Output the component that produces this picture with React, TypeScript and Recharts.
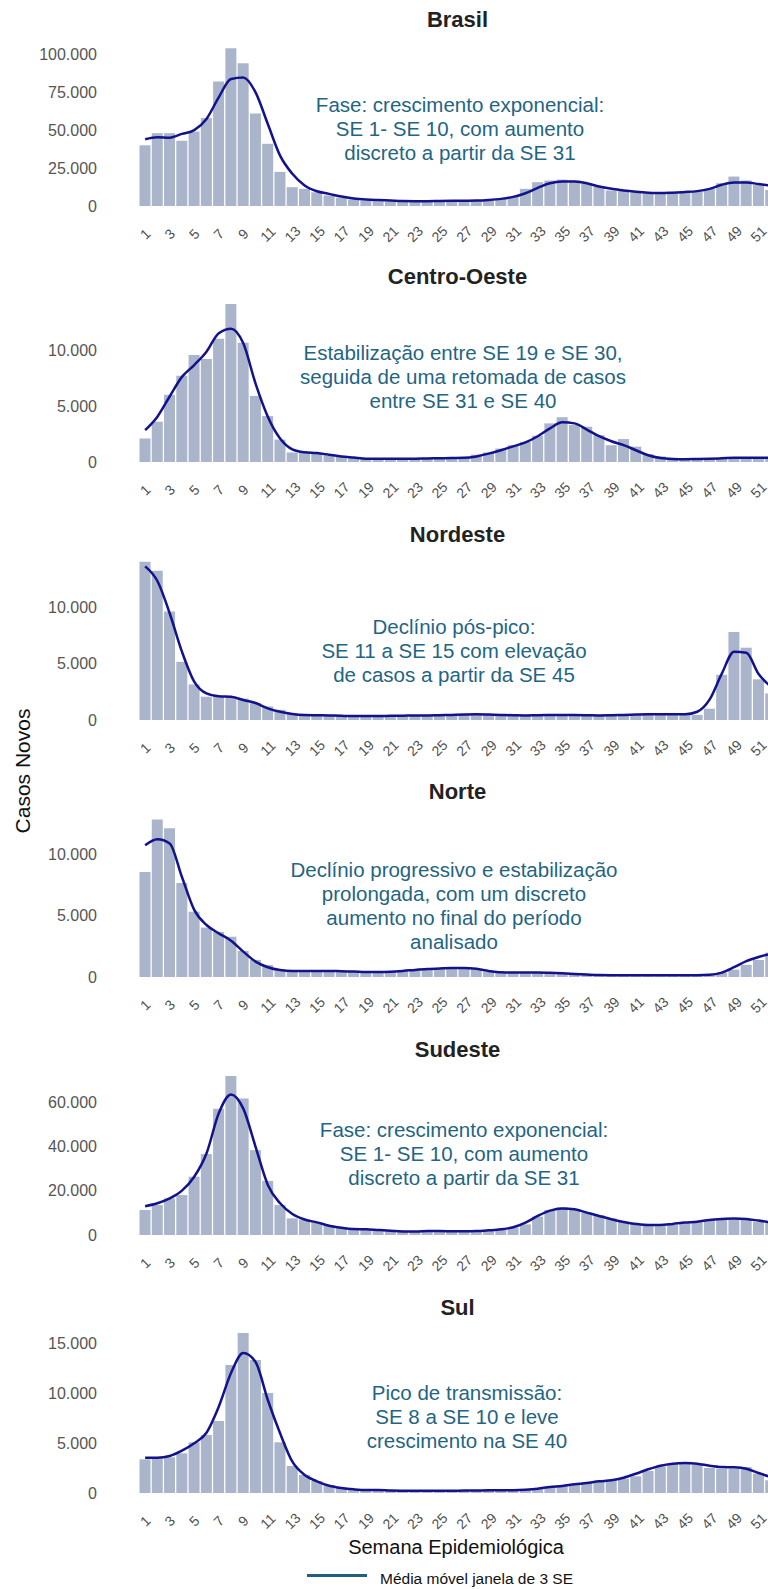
import { ComposedChart, Bar, Line, XAxis, YAxis } from "recharts";

const weeks = Array.from({ length: 52 }, (_, i) => String(i + 1));

// casos novos por SE (barras) e média móvel de 3 SE (linha)
const brasilCasos = [
  40000, 48000, 48000, 43000, 49000, 58000, 82000, 104000, 94000, 61000,
  41000, 22500, 12400, 11300, 9000, 7000, 5400, 4300, 3600, 3200,
  3000, 3000, 3000, 3200, 3300, 3400, 3500, 3600, 4000, 4700,
  5800, 11300, 15700, 16800, 17400, 16800, 15000, 12800, 10200, 10600,
  9000, 8400, 8000, 8400, 9000, 9600, 11300, 15000, 19400, 16800,
  14000, 10600,
];
const brasilMedia = [
  44000, 45300, 45000, 47500, 50000, 57400, 71600, 83700, 84700, 74900,
  54000, 33200, 21200, 13500, 9700, 8000, 6200, 5000, 4300, 3900,
  3600, 3300, 3200, 3200, 3300, 3400, 3500, 3600, 4000, 4700,
  6000, 8400, 12000, 15000, 16100, 16100, 15000, 12800, 11300, 10200,
  9400, 8800, 8500, 8800, 9200, 9800, 11300, 14000, 15500, 15500,
  14500, 13500,
];

const coCasos = [
  2100, 3600, 6000, 7700, 9550, 9200, 11000, 14100, 10650, 5900,
  4100, 2000, 850, 900, 800, 700, 500, 400, 300, 300,
  300, 300, 300, 350, 350, 400, 450, 650, 850, 1200,
  1500, 1800, 2350, 3450, 4000, 3300, 3150, 2400, 1500, 2050,
  1370, 700, 500, 350, 270, 250, 300, 350, 400, 400,
  400, 400,
];
const coMedia = [
  2850, 4050, 5850, 7600, 8660, 9850, 11500, 11900, 10600, 7000,
  4050, 2100, 1130, 870, 800, 650, 500, 400, 300, 300,
  300, 300, 300, 320, 330, 350, 370, 500, 750, 1050,
  1400, 1750, 2300, 3000, 3550, 3450, 2900, 2300, 1850, 1500,
  1050, 600, 350, 270, 250, 270, 300, 330, 370, 370,
  370, 370,
];

const neCasos = [
  14000, 13200, 9600, 5150, 3150, 2060, 2100, 2100, 1900, 1500,
  1200, 900, 600, 450, 400, 400, 350, 350, 350, 350,
  350, 400, 400, 400, 400, 400, 500, 500, 500, 450,
  400, 400, 400, 450, 450, 450, 400, 400, 400, 450,
  500, 500, 500, 500, 500, 450, 1000, 4000, 7800, 6400,
  3600, 2350,
];
const neMedia = [
  13600, 12300, 9450, 6050, 3400, 2350, 2100, 2050, 1770, 1500,
  1030, 730, 530, 440, 420, 400, 370, 350, 350, 350,
  370, 380, 400, 400, 420, 450, 480, 500, 480, 450,
  420, 400, 420, 440, 450, 440, 420, 400, 420, 450,
  480, 500, 500, 500, 500, 730, 1800, 4100, 6050, 5950,
  4070, 2950,
];

const norteCasos = [
  8600, 12900, 12200, 7700, 5350, 4050, 3700, 3300, 2130, 1400,
  980, 650, 550, 500, 500, 550, 450, 450, 400, 400,
  450, 500, 600, 650, 700, 750, 750, 650, 450, 400,
  350, 350, 400, 350, 300, 250, 200, 150, 150, 150,
  150, 150, 150, 150, 150, 150, 150, 350, 600, 1000,
  1400, 2000,
];
const norteMedia = [
  10800, 11300, 10950, 8200, 5500, 4260, 3580, 2980, 2080, 1260,
  800, 570, 500, 500, 500, 500, 470, 450, 420, 420,
  440, 500, 580, 650, 700, 740, 740, 670, 500, 380,
  360, 360, 360, 340, 300, 250, 200, 160, 150, 150,
  150, 150, 150, 150, 150, 150, 180, 360, 800, 1300,
  1640, 1900,
];

const sudesteCasos = [
  11300, 13500, 16500, 18000, 26300, 36500, 57000, 71700, 61600, 38300,
  24400, 13500, 7500, 7000, 5700, 4500, 3500, 3000, 2700, 2250,
  2000, 1700, 1600, 1800, 1900, 1700, 1600, 1700, 2100, 2600,
  3300, 4800, 8300, 11300, 12500, 11700, 10100, 9000, 7500, 6000,
  5000, 4500, 4000, 4500, 5300, 6000, 6800, 7200, 7500, 7200,
  6000, 5500,
];
const sudesteMedia = [
  13000, 14300, 16500, 20000, 26300, 36800, 54900, 63400, 57000, 39800,
  22600, 14300, 9500, 7000, 5700, 4200, 3300, 2700, 2600, 2250,
  1900, 1600, 1600, 1750, 1800, 1700, 1650, 1750, 2100, 2550,
  3500, 5600, 8600, 11000, 12000, 11600, 10100, 8600, 7100, 5900,
  5000, 4500, 4500, 5000, 5600, 6000, 6800, 7200, 7400, 7200,
  6500, 5700,
];

const sulCasos = [
  3370, 3470, 3570, 3970, 5070, 5800, 7200, 12800, 16000, 13300,
  10000, 5070, 2700, 1800, 1200, 800, 570, 400, 300, 300,
  300, 250, 220, 220, 220, 220, 250, 250, 280, 280,
  300, 330, 430, 600, 770, 870, 1030, 1170, 1270, 1430,
  1670, 2200, 2670, 2930, 3000, 2830, 2500, 2430, 2430, 2600,
  1930, 1270,
];
const sulMedia = [
  3530, 3530, 3700, 4230, 4970, 6030, 8630, 12000, 14000, 13100,
  9300, 5970, 3130, 1800, 1170, 730, 500, 370, 300, 300,
  250, 230, 220, 220, 220, 230, 240, 250, 270, 270,
  280, 330, 430, 600, 700, 870, 1000, 1170, 1270, 1530,
  1930, 2370, 2730, 2930, 3000, 2930, 2730, 2600, 2570, 2430,
  2000, 1600,
];

const panels = [
  {
    title: "Brasil",
    casos: brasilCasos,
    media: brasilMedia,
    ticks: [0, 25000, 50000, 75000, 100000],
    max: 110700,
    base: 205.5,
    noteX: 460,
    noteY: 105,
    note: [
      "Fase: crescimento exponencial:",
      "SE 1- SE 10, com aumento",
      "discreto a partir da SE 31",
    ],
  },
  {
    title: "Centro-Oeste",
    casos: coCasos,
    media: coMedia,
    ticks: [0, 5000, 10000],
    max: 15000,
    base: 462,
    noteX: 463,
    noteY: 353,
    note: [
      "Estabilização entre SE 19 e SE 30,",
      "seguida de uma retomada de casos",
      "entre SE 31 e SE 40",
    ],
  },
  {
    title: "Nordeste",
    casos: neCasos,
    media: neMedia,
    ticks: [0, 5000, 10000],
    max: 14870,
    base: 720,
    noteX: 454,
    noteY: 627,
    note: [
      "Declínio pós-pico:",
      "SE 11 a SE 15 com elevação",
      "de casos a partir da SE 45",
    ],
  },
  {
    title: "Norte",
    casos: norteCasos,
    media: norteMedia,
    ticks: [0, 5000, 10000],
    max: 13770,
    base: 977,
    noteX: 454,
    noteY: 870,
    note: [
      "Declínio progressivo e estabilização",
      "prolongada, com um discreto",
      "aumento no final do período",
      "analisado",
    ],
  },
  {
    title: "Sudeste",
    casos: sudesteCasos,
    media: sudesteMedia,
    ticks: [0, 20000, 40000, 60000],
    max: 75790,
    base: 1235,
    noteX: 464,
    noteY: 1130,
    note: [
      "Fase: crescimento exponencial:",
      "SE 1- SE 10, com aumento",
      "discreto a partir da SE 31",
    ],
  },
  {
    title: "Sul",
    casos: sulCasos,
    media: sulMedia,
    ticks: [0, 5000, 10000, 15000],
    max: 16800,
    base: 1493,
    noteX: 467,
    noteY: 1393,
    note: [
      "Pico de transmissão:",
      "SE 8 a SE 10 e leve",
      "crescimento na SE 40",
    ],
  },
];

const FONT = '"Liberation Sans", Arial, sans-serif';
const PLOT_H = 168;
const PLOT_CX = 457.5;

const fmt = (v: number) => String(v).replace(/\B(?=(\d{3})+(?!\d))/g, ".");

function XTick({ x, y, payload }: any) {
  const ty = y + 28;
  return (
    <text
      x={x}
      y={ty}
      transform={`rotate(-45 ${x} ${ty})`}
      textAnchor="middle"
      dominantBaseline="central"
      fontSize={14}
      fill="#505050"
      fontFamily={FONT}
    >
      {payload.value}
    </text>
  );
}

function YTick({ x, y, payload }: any) {
  return (
    <text
      x={x - 42}
      y={y}
      textAnchor="end"
      dominantBaseline="central"
      fontSize={16}
      fill="#555"
      fontFamily={FONT}
    >
      {fmt(payload.value)}
    </text>
  );
}

function Panel({ p }: { p: any }) {
  const rows = weeks.map((w, i) => ({ se: w, casos: p.casos[i], media: p.media[i] }));
  return (
    <>
      <div
        style={{
          position: "absolute",
          left: PLOT_CX - 200,
          width: 400,
          top: p.base - 185.5 - 13,
          height: 26,
          lineHeight: "26px",
          textAlign: "center",
          fontFamily: FONT,
          fontWeight: "bold",
          fontSize: 22,
          color: "#222",
        }}
      >
        {p.title}
      </div>
      <div style={{ position: "absolute", left: 0, top: p.base - PLOT_H }}>
        <ComposedChart
          width={777}
          height={PLOT_H + 50}
          data={rows}
          margin={{ top: 0, right: 0, left: 0, bottom: 0 }}
          barCategoryGap={0.5}
        >
          <XAxis
            dataKey="se"
            interval={1}
            height={50}
            axisLine={false}
            tickLine={false}
            tickSize={0}
            tickMargin={0}
            tick={<XTick />}
          />
          <YAxis
            width={139}
            domain={[0, p.max]}
            ticks={p.ticks}
            allowDataOverflow
            axisLine={false}
            tickLine={false}
            tickSize={0}
            tickMargin={0}
            tick={<YTick />}
          />
          <Bar dataKey="casos" fill="#aab5cb" isAnimationActive={false} />
          <Line
            type="monotone"
            dataKey="media"
            stroke="#12128c"
            strokeWidth={2.5}
            dot={false}
            isAnimationActive={false}
          />
        </ComposedChart>
      </div>
      <div
        style={{
          position: "absolute",
          left: p.noteX - 220,
          width: 440,
          top: p.noteY - 12,
          textAlign: "center",
          fontFamily: FONT,
          fontSize: 20.5,
          lineHeight: "24px",
          color: "#1f6584",
          whiteSpace: "nowrap",
        }}
      >
        {p.note.map((l: string) => (
          <div key={l}>{l}</div>
        ))}
      </div>
    </>
  );
}

export default function App() {
  return (
    <div
      style={{
        position: "absolute",
        left: 0,
        top: 0,
        width: 768,
        height: 1589,
        overflow: "hidden",
        background: "#fff",
      }}
    >
      {panels.map((p) => (
        <Panel key={p.title} p={p} />
      ))}
      <div
        style={{
          position: "absolute",
          left: 23 - 80,
          top: 771 - 12,
          width: 160,
          height: 24,
          lineHeight: "24px",
          textAlign: "center",
          transform: "rotate(-90deg)",
          fontFamily: FONT,
          fontSize: 21,
          color: "#111",
        }}
      >
        Casos Novos
      </div>
      <div
        style={{
          position: "absolute",
          left: 456 - 150,
          width: 300,
          top: 1547 - 12,
          height: 24,
          lineHeight: "24px",
          textAlign: "center",
          fontFamily: FONT,
          fontSize: 20,
          color: "#111",
        }}
      >
        Semana Epidemiológica
      </div>
      <div
        style={{
          position: "absolute",
          left: 307,
          top: 1573.5,
          width: 60,
          height: 3,
          background: "#1f6080",
        }}
      />
      <div
        style={{
          position: "absolute",
          left: 380,
          top: 1579 - 10,
          height: 20,
          lineHeight: "20px",
          fontFamily: FONT,
          fontSize: 15.5,
          color: "#111",
          whiteSpace: "nowrap",
        }}
      >
        Média móvel janela de 3 SE
      </div>
    </div>
  );
}
